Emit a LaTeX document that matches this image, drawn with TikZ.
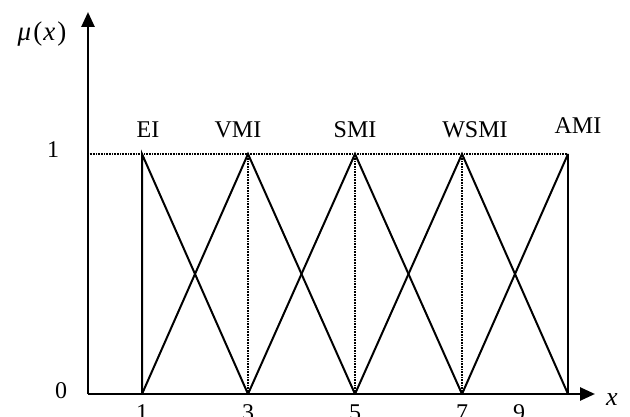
\documentclass[tikz,border=0pt]{standalone}
\usepackage{fontspec}
\setmainfont{Liberation Serif}
\usetikzlibrary{arrows.meta}
\begin{document}
\begin{tikzpicture}[x=1pt,y=-1pt,
  lbl/.style={font=\fontsize{24}{27}\selectfont, inner sep=0pt},
  axis/.style={line width=2.6pt, -{Triangle[length=15pt,width=13pt]}},
  mf/.style={line width=2pt, line join=miter},
  guide/.style={line width=1.2pt, dash pattern=on 1pt off 0.6pt}]
\useasboundingbox (0,0) rectangle (630,417);
% key points
\coordinate (O) at (88,394);
\coordinate (Ytip) at (88,12);
\coordinate (Xtip) at (595,394);
\coordinate (b1) at (142,394); \coordinate (t1) at (142,154);
\coordinate (b3) at (248,394); \coordinate (t3) at (248,154);
\coordinate (b5) at (355,394); \coordinate (t5) at (355,154);
\coordinate (b7) at (462,394); \coordinate (t7) at (462,154);
\coordinate (b9) at (568,394); \coordinate (t9) at (568,154);
\coordinate (y1) at (88,154);
% guides
\draw[guide] (y1) -- (t9);
\draw[guide] (b3) -- (t3);
\draw[guide] (b5) -- (t5);
\draw[guide] (b7) -- (t7);
% membership functions
\draw[mf] (b1) -- (t1) -- (b3);
\draw[mf] (b1) -- (t3) -- (b5);
\draw[mf] (b3) -- (t5) -- (b7);
\draw[mf] (b5) -- (t7) -- (b9);
\draw[mf] (b7) -- (t9);
\draw[line width=2.4pt] (t9) -- (b9);
% axes
\draw[axis] (O) -- (Ytip);
\draw[axis] (O) -- (Xtip);
% labels
\node[lbl, anchor=base] (lEI) at (148,138) {EI};
\node[lbl, anchor=base] (lVMI) at (238,138) {VMI};
\node[lbl, anchor=base] (lSMI) at (355,138) {SMI};
\node[lbl, anchor=base] (lWSMI) at (475,138) {WSMI};
\node[lbl, anchor=base] (lAMI) at (578,134) {AMI};
\node[lbl, anchor=base] (v1) at (53,158) {1};
\node[lbl, anchor=base] (v0) at (61,398) {0};
\node[lbl, anchor=base] (n1) at (142,420) {1};
\node[lbl, anchor=base] (n3) at (248,420) {3};
\node[lbl, anchor=base] (n5) at (355,420) {5};
\node[lbl, anchor=base] (n7) at (462,420) {7};
\node[lbl, anchor=base] (n9) at (519,420) {9};
\node[lbl, anchor=base, font=\fontsize{26}{29}\selectfont] (xl) at (612,405) {\itshape x};
\node[lbl, anchor=base, font=\fontsize{27}{30}\selectfont] (mu) at (42,41) {\itshape μ\kern2pt\upshape(\kern1pt\itshape x\kern2pt\upshape)};
\end{tikzpicture}
\end{document}
